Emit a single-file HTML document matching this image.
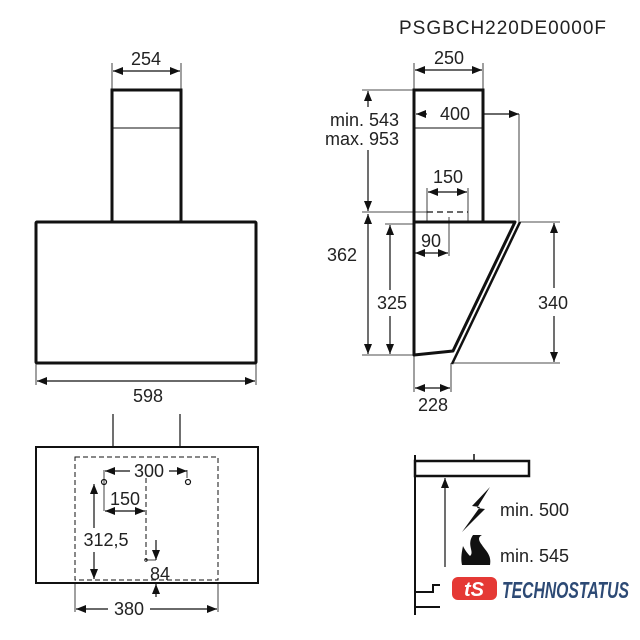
<!DOCTYPE html>
<html><head><meta charset="utf-8"><style>
html,body{margin:0;padding:0;background:#fff;width:640px;height:640px;overflow:hidden}
text{font-family:"Liberation Sans",sans-serif;fill:#222}
</style></head><body>
<svg width="640" height="640" viewBox="0 0 640 640" xmlns="http://www.w3.org/2000/svg">
<defs>
<marker id="a" viewBox="0 0 10 8" refX="10" refY="4" markerWidth="10" markerHeight="8" markerUnits="userSpaceOnUse" orient="auto-start-reverse"><path d="M0,0 L10,4 L0,8 Z" fill="#111"/></marker>
</defs>
<g stroke="#111" fill="none">
<text x="399" y="34" font-size="19" stroke="none" textLength="207">PSGBCH220DE0000F</text>

<rect x="112" y="90" width="69" height="132" stroke-width="3"/>
<line x1="112" y1="128" x2="181" y2="128" stroke-width="1"/>
<rect x="36" y="222" width="220" height="141" stroke-width="3" rx="1"/>
<line x1="112" y1="63" x2="112" y2="90" stroke-width="0.8"/>
<line x1="181" y1="63" x2="181" y2="90" stroke-width="0.8"/>
<line x1="113" y1="71" x2="180" y2="71" stroke-width="1.2" marker-start="url(#a)" marker-end="url(#a)"/>
<text x="146" y="65" font-size="18" text-anchor="middle" stroke="none">254</text>
<line x1="36" y1="363" x2="36" y2="385" stroke-width="0.8"/>
<line x1="256" y1="363" x2="256" y2="385" stroke-width="0.8"/>
<line x1="37" y1="381" x2="255" y2="381" stroke-width="1.2" marker-start="url(#a)" marker-end="url(#a)"/>
<text x="148" y="402" font-size="18" text-anchor="middle" stroke="none">598</text>

<rect x="414" y="90" width="69" height="132" stroke-width="3"/>
<line x1="414" y1="128" x2="483" y2="128" stroke-width="1"/>
<line x1="414" y1="63" x2="414" y2="90" stroke-width="0.8"/>
<line x1="483" y1="63" x2="483" y2="90" stroke-width="0.8"/>
<line x1="415" y1="70" x2="482" y2="70" stroke-width="1.2" marker-start="url(#a)" marker-end="url(#a)"/>
<text x="449" y="64" font-size="18" text-anchor="middle" stroke="none">250</text>
<line x1="416" y1="114" x2="427" y2="114" stroke-width="1.2" marker-start="url(#a)"/>
<line x1="484" y1="114" x2="519" y2="114" stroke-width="1.2" marker-end="url(#a)"/>
<line x1="519" y1="114" x2="519" y2="222" stroke-width="0.8"/>
<text x="455" y="120" font-size="18" text-anchor="middle" stroke="none">400</text>
<text x="399" y="126" font-size="18" text-anchor="end" stroke="none">min. 543</text>
<text x="399" y="145" font-size="18" text-anchor="end" stroke="none">max. 953</text>
<line x1="362" y1="90" x2="414" y2="90" stroke-width="0.8"/>
<line x1="368" y1="91" x2="368" y2="107" stroke-width="1.2" marker-start="url(#a)"/>
<line x1="368" y1="150" x2="368" y2="211" stroke-width="1.2" marker-end="url(#a)"/>
<line x1="362" y1="212" x2="427" y2="212" stroke-width="0.8"/>
<line x1="427" y1="212" x2="468" y2="212" stroke-width="1.2" stroke-dasharray="6,4"/>
<line x1="427" y1="188" x2="427" y2="222" stroke-width="0.8"/>
<line x1="468" y1="188" x2="468" y2="222" stroke-width="0.8"/>
<line x1="428" y1="192" x2="467" y2="192" stroke-width="1.2" marker-start="url(#a)" marker-end="url(#a)"/>
<text x="448" y="183" font-size="18" text-anchor="middle" stroke="none">150</text>
<path d="M414,222 L515,222 L453,351 L414,355 Z" stroke-width="3" stroke-linejoin="round"/>
<line x1="520" y1="222" x2="452" y2="364" stroke-width="2.5"/>
<line x1="449" y1="217" x2="449" y2="256" stroke-width="0.8"/>
<line x1="415" y1="253" x2="448" y2="253" stroke-width="1.2" marker-start="url(#a)" marker-end="url(#a)"/>
<text x="431" y="247" font-size="18" text-anchor="middle" stroke="none">90</text>
<line x1="368" y1="214" x2="368" y2="354" stroke-width="1.2" marker-start="url(#a)" marker-end="url(#a)"/>
<text x="342" y="261" font-size="18" text-anchor="middle" stroke="none">362</text>
<line x1="385" y1="224" x2="414" y2="224" stroke-width="0.8"/>
<line x1="390" y1="225" x2="390" y2="290" stroke-width="1.2" marker-start="url(#a)"/>
<line x1="390" y1="316" x2="390" y2="354" stroke-width="1.2" marker-end="url(#a)"/>
<text x="392" y="309" font-size="18" text-anchor="middle" stroke="none">325</text>
<line x1="362" y1="355" x2="414" y2="355" stroke-width="0.8"/>
<line x1="520" y1="222" x2="560" y2="222" stroke-width="0.8"/>
<line x1="453" y1="363" x2="560" y2="363" stroke-width="0.8"/>
<line x1="554" y1="223" x2="554" y2="288" stroke-width="1.2" marker-start="url(#a)"/>
<line x1="554" y1="316" x2="554" y2="362" stroke-width="1.2" marker-end="url(#a)"/>
<text x="553" y="309" font-size="18" text-anchor="middle" stroke="none">340</text>
<line x1="414" y1="355" x2="414" y2="392" stroke-width="0.8"/>
<line x1="451" y1="363" x2="451" y2="392" stroke-width="0.8"/>
<line x1="415" y1="388" x2="450" y2="388" stroke-width="1.2" marker-start="url(#a)" marker-end="url(#a)"/>
<text x="433" y="411" font-size="18" text-anchor="middle" stroke="none">228</text>

<line x1="113" y1="414" x2="113" y2="447" stroke-width="1.2"/>
<line x1="180" y1="414" x2="180" y2="447" stroke-width="1.2"/>
<rect x="36" y="447" width="222" height="136" stroke-width="2"/>
<rect x="75" y="457" width="143" height="123" stroke-width="1" stroke-dasharray="5,3"/>
<line x1="105" y1="471" x2="130" y2="471" stroke-width="1.2" marker-start="url(#a)"/>
<line x1="169" y1="471" x2="187" y2="471" stroke-width="1.2" marker-end="url(#a)"/>
<text x="149" y="477" font-size="18" text-anchor="middle" stroke="none">300</text>
<line x1="104" y1="470" x2="104" y2="511" stroke-width="0.8"/>
<line x1="187" y1="470" x2="187" y2="478" stroke-width="0.8"/>
<circle cx="104" cy="482" r="2.5" stroke-width="1.2"/>
<circle cx="188" cy="482" r="2.5" stroke-width="1.2"/>
<line x1="146" y1="478" x2="146" y2="560" stroke-width="1" stroke-dasharray="5,3"/>
<line x1="105" y1="511" x2="145" y2="511" stroke-width="1.2" marker-start="url(#a)" marker-end="url(#a)"/>
<text x="125" y="505" font-size="18" text-anchor="middle" stroke="none">150</text>
<line x1="94" y1="484" x2="94" y2="528" stroke-width="1.2" marker-start="url(#a)"/>
<line x1="94" y1="552" x2="94" y2="579" stroke-width="1.2" marker-end="url(#a)"/>
<text x="106" y="546" font-size="18" text-anchor="middle" stroke="none">312,5</text>
<line x1="156" y1="540" x2="156" y2="560" stroke-width="1.2" marker-end="url(#a)"/>
<line x1="146" y1="560" x2="156" y2="560" stroke-width="0.8"/>
<circle cx="146" cy="560" r="1.3" stroke-width="0.8"/>
<text x="160" y="580" font-size="18" text-anchor="middle" stroke="none">84</text>
<line x1="156" y1="597" x2="156" y2="584" stroke-width="1.2" marker-end="url(#a)"/>
<line x1="75" y1="583" x2="75" y2="612" stroke-width="0.8"/>
<line x1="218" y1="583" x2="218" y2="612" stroke-width="0.8"/>
<line x1="76" y1="609" x2="108" y2="609" stroke-width="1.2" marker-start="url(#a)"/>
<line x1="150" y1="609" x2="217" y2="609" stroke-width="1.2" marker-end="url(#a)"/>
<text x="129" y="615" font-size="18" text-anchor="middle" stroke="none">380</text>

<line x1="415" y1="455" x2="415" y2="615" stroke-width="2"/>
<rect x="415" y="461" width="114" height="15" stroke-width="2.5"/>
<line x1="474" y1="454" x2="474" y2="461" stroke-width="1.5"/>
<line x1="445" y1="567" x2="445" y2="478" stroke-width="1.2" marker-end="url(#a)"/>
<path d="M490,487 L472,506 L480,507 L462,532 L485,509 L477,508 Z" fill="#111" stroke="none"/>
<path d="M473,535 C466,545 475,552 470,556 C466,552 464,548 463,546 C461,555 461,560 462,565 L490,565 C492,555 485,550 482,545 C478,540 478,537 482,535 C478,535 475,535 473,535 Z" fill="#111" stroke="none"/>
<text x="500" y="516" font-size="18" stroke="none">min. 500</text>
<text x="500" y="562" font-size="18" stroke="none">min. 545</text>
<path d="M415,592 L433,592 L433,585 L440,585 M415,607 L440,607" stroke-width="2"/>
<rect x="452" y="577" width="45" height="23" rx="6" fill="#e53935" stroke="none"/>
<text x="474" y="596" font-size="20" font-weight="bold" text-anchor="middle" stroke="none" style="fill:#fff" font-style="italic">tS</text>
<text x="502" y="598" font-size="23" font-weight="bold" font-style="italic" stroke="none" style="fill:#2d4a75" textLength="127" lengthAdjust="spacingAndGlyphs">TECHNOSTATUS</text>
</g>
</svg>
</body></html>
